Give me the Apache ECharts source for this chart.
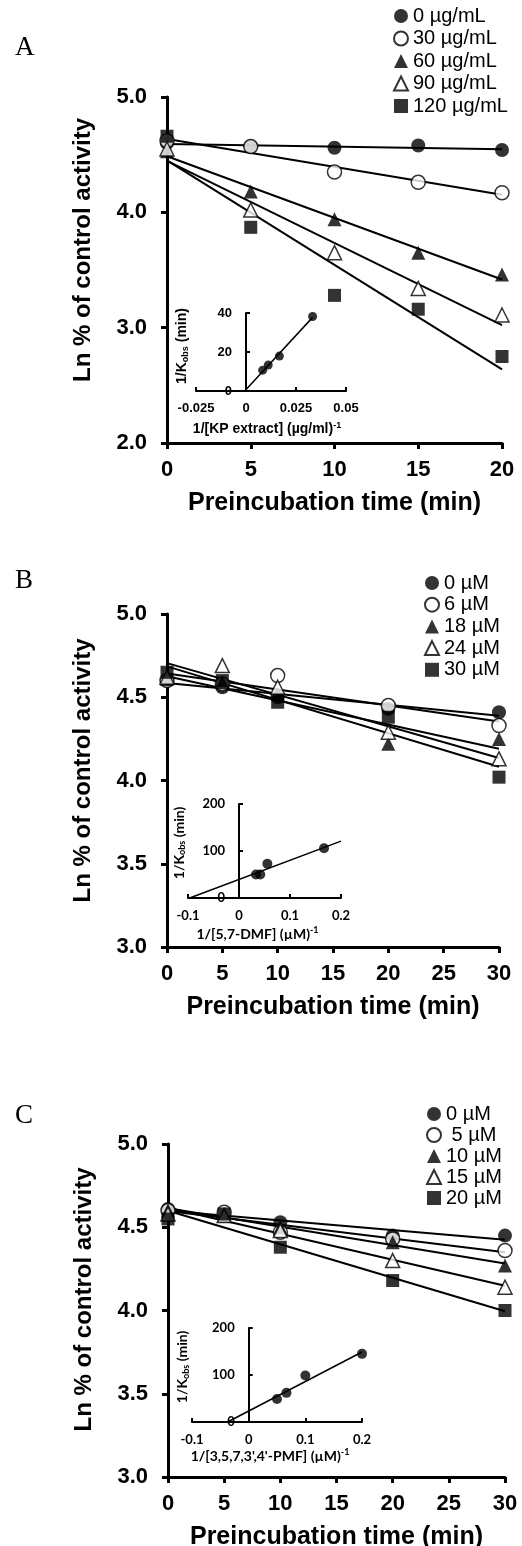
<!DOCTYPE html>
<html>
<head>
<meta charset="utf-8">
<script src="https://cdn.jsdelivr.net/npm/echarts@6/dist/echarts.min.js"></script>
<style>
html, body { margin: 0; padding: 0; background: #fff; }
#chart { width: 522px; height: 1546px; }
</style>
</head>
<body>
<div id="chart"></div>
<script>
// A: KP extract
const timeA = [0, 5, 10, 15, 20]
const legendA = ['0 µg/mL', '30 µg/mL', '60 µg/mL', '90 µg/mL', '120 µg/mL']
const lnA0 = [4.60, 4.57, 4.56, 4.58, 4.54]
const lnA30 = [4.62, 4.57, 4.35, 4.26, 4.17]
const lnA60 = [4.53, 4.18, 3.94, 3.65, 3.46]
const lnA90 = [4.55, 4.02, 3.65, 3.34, 3.11]
const lnA120 = [4.66, 3.87, 3.28, 3.16, 2.75]
const invA = [0.00833, 0.0111, 0.0167, 0.0333]
const kobsA = [10.7, 13.3, 17.9, 38.2]
const fitEndA = 0.0333

// B: 5,7-DMF
const timeB = [0, 5, 10, 20, 30]
const legendB = ['0 µM', '6 µM', '18 µM', '24 µM', '30 µM']
const lnB0 = [4.60, 4.56, 4.50, 4.43, 4.41]
const lnB6 = [4.60, 4.58, 4.63, 4.45, 4.33]
const lnB18 = [4.61, 4.59, 4.52, 4.22, 4.25]
const lnB24 = [4.62, 4.69, 4.56, 4.29, 4.13]
const lnB30 = [4.65, 4.60, 4.47, 4.38, 4.02]
const invB = [0.0333, 0.0417, 0.0556, 0.1667]
const kobsB = [50, 50, 73, 106]
const fitEndB = 0.2

// C: 3,5,7,3',4'-PMF
const timeC = [0, 5, 10, 20, 30]
const legendC = ['0 µM', ' 5 µM', '10 µM', '15 µM', '20 µM']
const lnC0 = [4.61, 4.58, 4.53, 4.45, 4.45]
const lnC5 = [4.60, 4.59, 4.47, 4.43, 4.36]
const lnC10 = [4.60, 4.57, 4.50, 4.41, 4.27]
const lnC15 = [4.58, 4.57, 4.48, 4.30, 4.14]
const lnC20 = [4.55, 4.58, 4.38, 4.18, 4.00]
const invC = [0.05, 0.0667, 0.1, 0.2]
const kobsC = [49, 62, 99, 145]
const fitEndC = 0.2

const ARIAL = '"Liberation Sans", Arial, sans-serif'
const CALIBRI = 'Lato, "Liberation Sans", sans-serif'
const SHAPES = ['circle', 'circle', 'triangle', 'triangle', 'rect']
const HOLLOW = [false, true, false, true, false]
const SIZES = { circle: 14, triangle: 14, rect: 13 }

function fit(xs, ys) {
  const n = xs.length
  const mx = xs.reduce((s, v) => s + v, 0) / n
  const my = ys.reduce((s, v) => s + v, 0) / n
  let sxy = 0
  let sxx = 0
  xs.forEach((x, i) => {
    sxy += (x - mx) * (ys[i] - my)
    sxx += (x - mx) * (x - mx)
  })
  const slope = sxy / sxx
  return { slope, icpt: my - slope * mx }
}

const panels = [
  { key: 'A', times: timeA, labels: legendA, values: [lnA0, lnA30, lnA60, lnA90, lnA120] },
  { key: 'B', times: timeB, labels: legendB, values: [lnB0, lnB6, lnB18, lnB24, lnB30] },
  { key: 'C', times: timeC, labels: legendC, values: [lnC0, lnC5, lnC10, lnC15, lnC20] },
]
const insets = [
  { x: invA, y: kobsA, end: fitEndA, size: 9 },
  { x: invB, y: kobsB, end: fitEndB, size: 10 },
  { x: invC, y: kobsC, end: fitEndC, size: 10 },
]

const series = []
panels.forEach((p, gi) => {
  const t0 = p.times[0]
  const t1 = p.times[p.times.length - 1]
  p.values.forEach((ys) => {
    const f = fit(p.times, ys)
    series.push({
      type: 'line', xAxisIndex: gi, yAxisIndex: gi, silent: true, z: 2,
      symbol: 'none', lineStyle: { color: '#000', width: 2 },
      data: [[t0, f.icpt + f.slope * t0], [t1, f.icpt + f.slope * t1]],
    })
  })
  p.values.forEach((ys, k) => {
    series.push({
      type: 'scatter', name: p.key + '|' + p.labels[k], xAxisIndex: gi, yAxisIndex: gi, z: 3,
      symbol: SHAPES[k], symbolSize: SIZES[SHAPES[k]],
      itemStyle: HOLLOW[k] ? { color: '#fff', borderColor: '#000', borderWidth: 1.5 } : { color: '#000' },
      data: p.times.map((t, i) => [t, ys[i]]),
    })
  })
})
insets.forEach((p, j) => {
  const gi = 3 + j
  const f = fit(p.x, p.y)
  const x0 = -f.icpt / f.slope
  series.push({
    type: 'line', xAxisIndex: gi, yAxisIndex: gi, silent: true, z: 4,
    symbol: 'none', lineStyle: { color: '#000', width: 1.5 },
    data: [[x0, 0], [p.end, f.icpt + f.slope * p.end]],
  })
  series.push({
    type: 'scatter', xAxisIndex: gi, yAxisIndex: gi, z: 5,
    symbol: 'circle', symbolSize: p.size, itemStyle: { color: '#000' },
    data: p.x.map((v, i) => [v, p.y[i]]),
  })
})

function mainX(gi, max) {
  return {
    gridIndex: gi, type: 'value', min: 0, max, interval: 5,
    name: 'Preincubation time (min)', nameLocation: 'middle', nameGap: 48,
    nameTextStyle: { fontFamily: ARIAL, fontSize: 25, fontWeight: 'bold', color: '#000' },
    axisLine: { onZero: false, lineStyle: { color: '#000', width: 3 } },
    axisTick: { length: 6, lineStyle: { color: '#000', width: 3 } },
    axisLabel: { fontFamily: ARIAL, fontSize: 22, fontWeight: 'bold', color: '#000', margin: 16 },
    splitLine: { show: false },
  }
}
function mainY(gi, min, interval, shift) {
  return {
    gridIndex: gi, type: 'value', min, max: 5, interval,
    name: 'Ln % of control activity', nameLocation: 'middle', nameGap: 72,
    nameTextStyle: { fontFamily: ARIAL, fontSize: 24, fontWeight: 'bold', color: '#000', padding: [0, 0, 0, shift] },
    axisLine: { onZero: false, lineStyle: { color: '#000', width: 3 } },
    axisTick: { length: 6, lineStyle: { color: '#000', width: 3 } },
    axisLabel: { fontFamily: ARIAL, fontSize: 22, fontWeight: 'bold', color: '#000', margin: 20, formatter: v => v.toFixed(1) },
    splitLine: { show: false },
  }
}
function insetX(gi, min, max, interval, name, font, size, gap, shift) {
  return {
    gridIndex: gi, type: 'value', min, max, interval,
    name, nameLocation: 'middle', nameGap: gap,
    nameTextStyle: {
      fontFamily: font, fontSize: size + 1, fontWeight: 'bold', color: '#000', padding: [0, shift, 0, 0],
      rich: { sup: { fontFamily: font, fontSize: 9, fontWeight: 'bold', color: '#000', padding: [0, 0, 7, 0] } },
    },
    axisLine: { onZero: false, lineStyle: { color: '#000', width: 2 } },
    axisTick: { inside: true, length: 4, lineStyle: { color: '#000', width: 2 } },
    axisLabel: { fontFamily: font, fontSize: size, fontWeight: 'bold', color: '#000', margin: 11 },
    splitLine: { show: false },
  }
}
// the y axis of each inset stands at x = 0, so it is pulled into its grid by offset
function insetY(gi, max, interval, font, size, offset, gap, shift) {
  return {
    gridIndex: gi, type: 'value', min: 0, max, interval, offset,
    name: '1/K{sub|obs} (min)', nameLocation: 'middle', nameGap: gap,
    nameTextStyle: {
      fontFamily: font, fontSize: size + 1, fontWeight: 'bold', color: '#000', padding: [0, 0, 0, shift],
      rich: { sub: { fontFamily: font, fontSize: 9, fontWeight: 'bold', color: '#000', padding: [7, 0, 0, 0] } },
    },
    axisLine: { onZero: false, lineStyle: { color: '#000', width: 2 } },
    axisTick: { inside: true, length: 4, lineStyle: { color: '#000', width: 2 } },
    axisLabel: { fontFamily: font, fontSize: size, fontWeight: 'bold', color: '#000', margin: 14 },
    splitLine: { show: false },
  }
}
function legend(p, left, top, gap) {
  return {
    orient: 'vertical', left, top, padding: 0, itemGap: gap, itemWidth: 14, itemHeight: 14, itemTextGap: 3,
    selectedMode: false,
    data: p.labels.map((l, k) => ({ name: p.key + '|' + l, icon: SHAPES[k] })),
    formatter: n => n.split('|')[1],
    textStyle: { fontFamily: ARIAL, fontSize: 20, lineHeight: 20, color: '#000' },
  }
}
function letter(text, top) {
  return { text, left: 10, top, textStyle: { fontFamily: '"Liberation Serif", "Times New Roman", serif', fontSize: 27, fontWeight: 'normal', color: '#000' } }
}

const chart = echarts.init(document.getElementById('chart'))
chart.setOption({
  animation: false,
  backgroundColor: '#fff',
  title: [letter('A', 29), letter('B', 562), letter('C', 1097)],
  legend: [legend(panels[0], 393, 6, 2.5), legend(panels[1], 424, 573, 1.7), legend(panels[2], 426, 1104, 1)],
  grid: [
    { left: 167, top: 97, width: 335, height: 346, outerBoundsMode: 'none', containLabel: false },
    { left: 167, top: 614, width: 332, height: 333, outerBoundsMode: 'none', containLabel: false },
    { left: 168, top: 1144, width: 337, height: 333, outerBoundsMode: 'none', containLabel: false },
    { left: 196, top: 313, width: 150, height: 78, outerBoundsMode: 'none', containLabel: false },
    { left: 188, top: 804, width: 153, height: 94, outerBoundsMode: 'none', containLabel: false },
    { left: 192, top: 1328, width: 170, height: 94, outerBoundsMode: 'none', containLabel: false },
  ],
  xAxis: [
    mainX(0, 20), mainX(1, 30), mainX(2, 30),
    insetX(3, -0.025, 0.05, 0.025, '1/[KP extract] (µg/ml){sup|-1}', ARIAL, 13, 30, 8),
    insetX(4, -0.1, 0.2, 0.1, '1/[5,7-DMF] (µM){sup|-1}', CALIBRI, 13, 28, 14),
    insetX(5, -0.1, 0.2, 0.1, "1/[3,5,7,3',4'-PMF] (µM){sup|-1}", CALIBRI, 13, 26, 14),
  ],
  yAxis: [
    mainY(0, 2, 1, 40), mainY(1, 3, 0.5, 20), mainY(2, 3, 0.5, 22),
    insetY(3, 40, 20, ARIAL, 13, -50, 56, 12),
    insetY(4, 200, 100, CALIBRI, 13, -51, 52, 16),
    insetY(5, 200, 100, CALIBRI, 13, -56.7, 58, 16),
  ],
  series,
})
</script>
</body>
</html>
